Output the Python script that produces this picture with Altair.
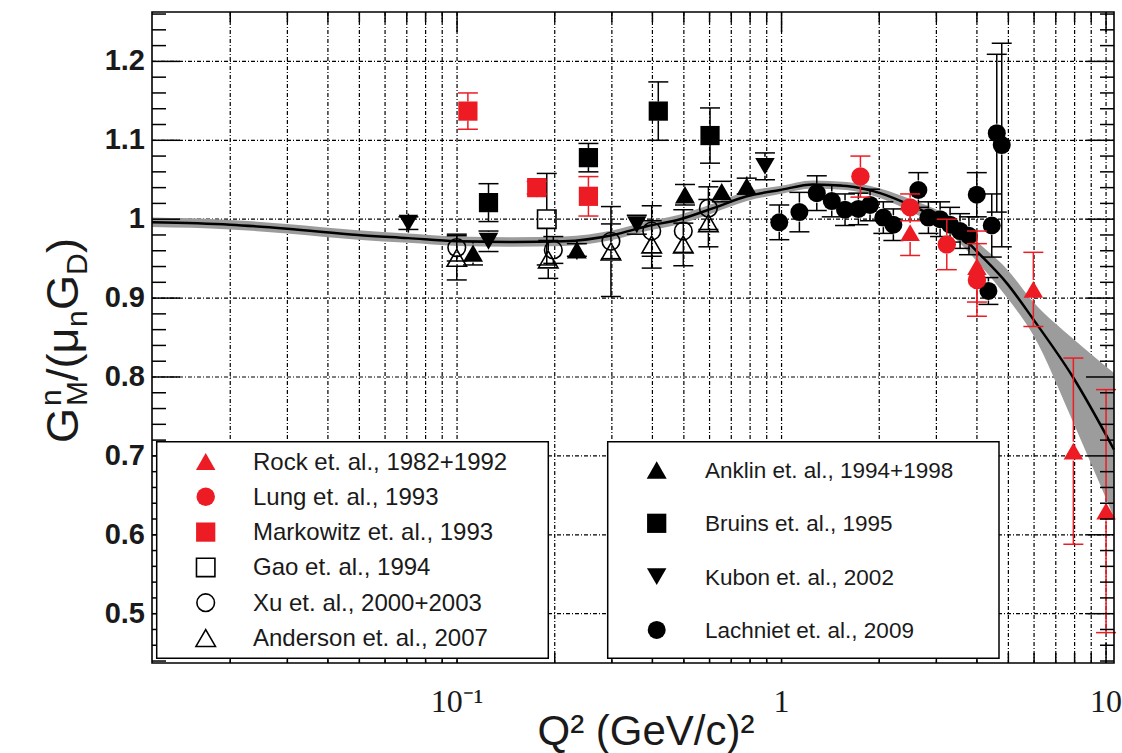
import altair as alt
import pandas as pd

# ---------------------------------------------------------------------------
# Measured G_M^n / (mu_n G_D) world data and a global fit with its error band
# ---------------------------------------------------------------------------
rock_q2 = [2.49, 4.0, 5.97, 7.93, 10.0]
rock_g = [0.983, 0.940, 0.911, 0.706, 0.630]
rock_err = [0.029, 0.045, 0.047, 0.118, 0.154]

lung_q2 = [1.75, 2.49, 3.23, 4.0]
lung_g = [1.054, 1.015, 0.968, 0.923]
lung_err = [0.026, 0.017, 0.032, 0.046]

markowitz_q2 = [0.108, 0.176, 0.254]
markowitz_g = [1.137, 1.040, 1.029]
markowitz_err = [0.023, 0.008, 0.025]

gao_q2 = [0.189]
gao_g = [1.000]
gao_err = [0.058]

xu_q2 = [0.0998, 0.198, 0.298, 0.398, 0.498, 0.595]
xu_g = [0.964, 0.961, 0.972, 0.985, 0.985, 1.014]
xu_err = [0.017, 0.017, 0.022, 0.032, 0.027, 0.027]

anderson_q2 = [0.0998, 0.191, 0.298, 0.398, 0.498, 0.595]
anderson_g = [0.951, 0.949, 0.959, 0.968, 0.968, 0.995]
anderson_err = [0.028, 0.024, 0.057, 0.030, 0.027, 0.030]

anklin_q2 = [0.112, 0.234, 0.504, 0.654, 0.781]
anklin_g = [0.957, 0.961, 1.031, 1.035, 1.042]
anklin_err = [0.015, 0.008, 0.013, 0.013, 0.010]

bruins_q2 = [0.125, 0.254, 0.417, 0.602]
bruins_g = [1.021, 1.078, 1.137, 1.106]
bruins_err = [0.024, 0.018, 0.037, 0.035]

kubon_q2 = [0.0708, 0.125, 0.358, 0.889]
kubon_g = [0.995, 0.972, 0.993, 1.067]
kubon_err = [0.008, 0.013, 0.012, 0.017]

lachniet_q2 = [0.984, 1.135, 1.284, 1.428, 1.569, 1.725, 1.874, 2.059, 2.211,
               2.640, 2.835, 3.080, 3.306, 3.549, 3.780, 3.996, 4.340, 4.444,
               4.605, 4.770]
lachniet_g = [0.996, 1.009, 1.033, 1.023, 1.012, 1.013, 1.018, 1.002, 0.993,
              1.037, 1.002, 1.000, 0.993, 0.985, 0.979, 1.031, 0.909, 0.992,
              1.109, 1.094]
lachniet_err = [0.022, 0.025, 0.022, 0.020, 0.020, 0.020, 0.020, 0.020, 0.020,
                0.022, 0.020, 0.022, 0.022, 0.022, 0.024, 0.028, 0.017, 0.040,
                0.100, 0.129]

fit_q2 = [0.01148, 0.0200, 0.0299, 0.0495, 0.0707, 0.0998, 0.149, 0.213, 0.303,
          0.384, 0.487, 0.616, 0.781, 0.989, 1.251, 1.588, 2.012, 2.548, 3.228,
          4.091, 4.943, 5.97, 7.93, 10.58]
fit_g = [0.996, 0.993, 0.988, 0.980, 0.976, 0.972, 0.971, 0.972, 0.980, 0.991,
         1.000, 1.014, 1.029, 1.037, 1.044, 1.042, 1.033, 1.016, 0.995, 0.955,
         0.919, 0.873, 0.799, 0.708]
fit_lo = [0.990, 0.987, 0.982, 0.974, 0.970, 0.966, 0.965, 0.966, 0.974, 0.985,
          0.994, 1.008, 1.023, 1.032, 1.039, 1.037, 1.027, 1.008, 0.985, 0.942,
          0.901, 0.853, 0.742, 0.622]
fit_hi = [1.002, 0.999, 0.994, 0.986, 0.982, 0.978, 0.977, 0.978, 0.986, 0.997,
          1.006, 1.020, 1.035, 1.042, 1.049, 1.047, 1.039, 1.024, 1.005, 0.968,
          0.937, 0.895, 0.848, 0.805]

x_grid = [0.02, 0.03, 0.04, 0.05, 0.06, 0.07, 0.08, 0.09,
          0.1, 0.2, 0.3, 0.4, 0.5, 0.6, 0.7, 0.8, 0.9,
          1, 2, 3, 4, 5, 6, 7, 8, 9, 10]
x_major = [0.1, 1, 10]
x_labels = ["10\u207b\u00b9", "1", "10"]
y_major = [0.5, 0.6, 0.7, 0.8, 0.9, 1.0, 1.1, 1.2]
y_labels = ["0.5", "0.6", "0.7", "0.8", "0.9", "1", "1.1", "1.2"]
y_minor = [round(0.44 + 0.02 * i, 2) for i in range(42)]

# ---------------------------------------------------------------------------
# Frame geometry and styling
# ---------------------------------------------------------------------------
W, H = 962, 651
LEFT, TOP = 152, 12
X_DOMAIN = [0.01148, 10.58]
Y_DOMAIN = [0.4375, 1.2626]
RED = "#ed1c24"
SANS = "Liberation Sans, Arial, Helvetica, sans-serif"
SERIF = "Liberation Serif, Times New Roman, serif"
GAP = 9.5  # error bar stops at the marker edge
GRID_DASH = [4, 2, 1, 2]

xs = alt.Scale(type="log", domain=X_DOMAIN, nice=False)
ys = alt.Scale(domain=Y_DOMAIN, nice=False, zero=False)


def X(field):
    return alt.X(field, type="quantitative", scale=xs, axis=None)


def Y(field):
    return alt.Y(field, type="quantitative", scale=ys, axis=None)


def one_row(**kw):
    return alt.Chart(pd.DataFrame({k: [v] for k, v in kw.items()}))


layers = []

# dashed grid
layers.append(
    alt.Chart(pd.DataFrame({"v": x_grid}))
    .mark_rule(color="black", strokeWidth=1.2, strokeDash=GRID_DASH)
    .encode(x=X("v"), y=alt.value(0), y2=alt.value(H))
)
layers.append(
    alt.Chart(pd.DataFrame({"v": y_major}))
    .mark_rule(color="black", strokeWidth=1.2, strokeDash=GRID_DASH)
    .encode(y=Y("v"), x=alt.value(0), x2=alt.value(W))
)

# fit band and central curve
fit_df = pd.DataFrame({"q2": fit_q2, "g": fit_g, "lo": fit_lo, "hi": fit_hi})
layers.append(
    alt.Chart(fit_df)
    .mark_area(color="#9c9c9c", opacity=1, interpolate="monotone")
    .encode(x=X("q2"), y=Y("lo"), y2=alt.Y2("hi"))
)
layers.append(
    alt.Chart(fit_df)
    .mark_line(color="black", strokeWidth=2.5, interpolate="monotone")
    .encode(x=X("q2"), y=Y("g"))
)

# series: name, data, marker shape, colour, filled, marker size
series = [
    ("Lachniet et. al., 2009", lachniet_q2, lachniet_g, lachniet_err, "circle", "black", True, 324),
    ("Anklin et. al., 1994+1998", anklin_q2, anklin_g, anklin_err, "triangle-up", "black", True, 400),
    ("Bruins et. al., 1995", bruins_q2, bruins_g, bruins_err, "square", "black", True, 370),
    ("Kubon et. al., 2002", kubon_q2, kubon_g, kubon_err, "triangle-down", "black", True, 380),
    ("Gao et. al., 1994", gao_q2, gao_g, gao_err, "square", "black", False, 340),
    ("Xu et. al., 2000+2003", xu_q2, xu_g, xu_err, "circle", "black", False, 310),
    ("Anderson et. al., 2007", anderson_q2, anderson_g, anderson_err, "triangle-up", "black", False, 380),
    ("Markowitz et. al., 1993", markowitz_q2, markowitz_g, markowitz_err, "square", RED, True, 370),
    ("Lung et. al., 1993", lung_q2, lung_g, lung_err, "circle", RED, True, 340),
    ("Rock et. al., 1982+1992", rock_q2, rock_g, rock_err, "triangle-up", RED, True, 380),
]

for name, q2, g, err, shape, color, filled, size in series:
    df = pd.DataFrame({"q2": q2, "g": g, "err": err})
    df["lo"] = df["g"] - df["err"]
    df["hi"] = df["g"] + df["err"]
    base = alt.Chart(df)
    layers.append(
        base.mark_rule(color=color, strokeWidth=1.5, y2Offset=GAP)
        .encode(x=X("q2"), y=Y("lo"), y2=alt.Y2("g"))
    )
    layers.append(
        base.mark_rule(color=color, strokeWidth=1.5, yOffset=-GAP)
        .encode(x=X("q2"), y=Y("g"), y2=alt.Y2("hi"))
    )
    for end in ("lo", "hi"):
        layers.append(
            base.mark_rule(color=color, strokeWidth=1.5, xOffset=-10, x2Offset=10)
            .encode(x=X("q2"), x2=alt.X2("q2"), y=Y(end))
        )
    layers.append(
        base.mark_point(shape=shape, filled=filled, color=color, size=size,
                        opacity=1, strokeWidth=1.6)
        .encode(x=X("q2"), y=Y("g"))
    )

# inward ticks on all four sides
x_minor = [v for v in x_grid if v not in x_major]
y_minor = [v for v in y_minor if round(v * 10, 6) != round(v * 10)]
for vals, length in ((x_major, 20), (x_minor, 10)):
    d = alt.Chart(pd.DataFrame({"v": vals}))
    layers.append(d.mark_rule(color="black", strokeWidth=1.5)
                  .encode(x=X("v"), y=alt.value(H), y2=alt.value(H - length)))
    layers.append(d.mark_rule(color="black", strokeWidth=1.5)
                  .encode(x=X("v"), y=alt.value(0), y2=alt.value(length)))
for vals, length in ((y_major, 28), (y_minor, 14)):
    d = alt.Chart(pd.DataFrame({"v": vals}))
    layers.append(d.mark_rule(color="black", strokeWidth=1.5)
                  .encode(y=Y("v"), x=alt.value(0), x2=alt.value(length)))
    layers.append(d.mark_rule(color="black", strokeWidth=1.5)
                  .encode(y=Y("v"), x=alt.value(W - length), x2=alt.value(W)))

# frame
layers.append(
    one_row(k=0).mark_rect(fill="white", fillOpacity=0, stroke="black", strokeWidth=1.6)
    .encode(x=alt.value(0), x2=alt.value(W), y=alt.value(0), y2=alt.value(H))
)

# legends: two boxed columns
boxes = [
    dict(x0=156.7, x1=548.3, y0=441.7, y1=658.3, mx=205.7, tx=253, row0=461.5,
         step=35.3, fs=24),
    dict(x0=607.7, x1=999.0, y0=441.7, y1=658.3, mx=656.7, tx=705, row0=470.0,
         step=53.3, fs=22.5),
]
for b in boxes:
    layers.append(
        one_row(k=0).mark_rect(fill="white", stroke="black", strokeWidth=1.5)
        .encode(x=alt.value(b["x0"] - LEFT), x2=alt.value(b["x1"] - LEFT),
                y=alt.value(b["y0"] - TOP), y2=alt.value(b["y1"] - TOP))
    )

legend_order = [
    ["Rock et. al., 1982+1992", "Lung et. al., 1993", "Markowitz et. al., 1993",
     "Gao et. al., 1994", "Xu et. al., 2000+2003", "Anderson et. al., 2007"],
    ["Anklin et. al., 1994+1998", "Bruins et. al., 1995", "Kubon et. al., 2002",
     "Lachniet et. al., 2009"],
]
style = {s[0]: s for s in series}
for col, names in enumerate(legend_order):
    b = boxes[col]
    for i, name in enumerate(names):
        _, _, _, _, shape, color, filled, size = style[name]
        yy = b["row0"] + i * b["step"] - TOP
        row = one_row(name=name)
        layers.append(
            row.mark_point(shape=shape, filled=filled, color=color, size=size,
                           opacity=1, strokeWidth=1.6)
            .encode(x=alt.value(b["mx"] - LEFT), y=alt.value(yy))
        )
        layers.append(
            row.mark_text(align="left", baseline="middle", font=SANS, fontSize=b["fs"],
                          color="#1a1a1a")
            .encode(x=alt.value(b["tx"] - LEFT), y=alt.value(yy + 1), text="name:N")
        )

# tick labels
layers.append(
    alt.Chart(pd.DataFrame({"v": y_major, "label": y_labels}))
    .mark_text(align="right", baseline="middle", font=SANS, fontSize=29,
               fontWeight="bold", color="#1a1a1a")
    .encode(x=alt.value(-7), y=Y("v"), text="label:N")
)
layers.append(
    alt.Chart(pd.DataFrame({"v": x_major, "label": x_labels}))
    .mark_text(align="center", baseline="alphabetic", font=SERIF, fontSize=32,
               color="#1a1a1a")
    .encode(x=X("v"), y=alt.value(712 - TOP), text="label:N")
)

# x title
layers.append(
    one_row(t="Q\u00b2 (GeV/c)\u00b2")
    .mark_text(align="center", baseline="alphabetic", font=SANS, fontSize=42,
               color="#1a1a1a")
    .encode(x=alt.value(646 - LEFT), y=alt.value(745 - TOP), text="t:N")
)

# y title built from pieces, read bottom to top: G^n_M/(mu_n G_D)
BASE_X = 78
y_title = [
    ("G", 45, BASE_X, 443),
    ("n", 30, BASE_X - 17, 406),
    ("M", 30, BASE_X + 9, 406),
    ("/(\u03bc", 45, BASE_X, 381),
    ("n", 30, BASE_X + 9, 327),
    ("G", 45, BASE_X, 310),
    ("D", 30, BASE_X + 9, 275),
    (")", 45, BASE_X, 253),
]
for txt, fs, ax, ay in y_title:
    layers.append(
        one_row(t=txt)
        .mark_text(align="left", baseline="alphabetic", angle=270, font=SANS,
                   fontSize=fs, color="#1a1a1a")
        .encode(x=alt.value(ax - LEFT), y=alt.value(ay - TOP), text="t:N")
    )

chart = (
    alt.layer(*layers)
    .properties(
        width=W,
        height=H,
        autosize=alt.AutoSizeParams(type="none"),
        padding={"left": LEFT, "top": TOP, "right": 1122 - LEFT - W, "bottom": 753 - TOP - H},
        background="white",
    )
    .configure_view(stroke=None)
)

chart.save("out.html", embed_options={"renderer": "svg", "actions": False})
